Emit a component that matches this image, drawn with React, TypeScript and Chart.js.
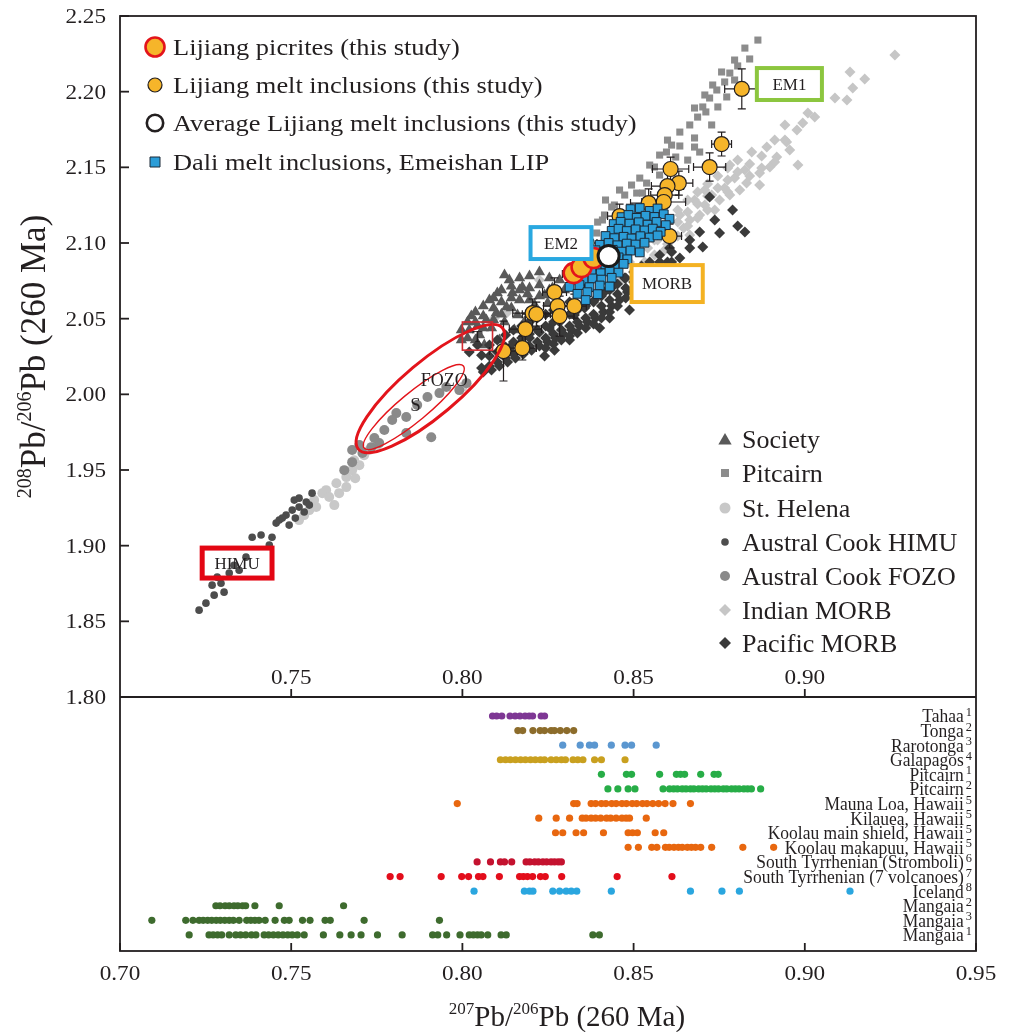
import React, { useEffect, useRef } from "react";
import { Chart, registerables } from "chart.js";

Chart.register(...registerables);

type Pt = [number, number];
type ErrPt = [number, number, number, number];

const SERIF = '"Liberation Serif", "Times New Roman", serif';
const INK = "#231f20";

// ---------------- axes ----------------
const X_MIN = 0.7;
const X_MAX = 0.95;
const X_STEP = 0.05;
const Y_MIN = 1.8;
const Y_MAX = 2.25;
const Y_STEP = 0.05;
const innerXTicks = [0.75, 0.8, 0.85, 0.9];

// ---------------- upper panel: reference fields ----------------
const society: Pt[] = [
  [0.8137, 2.0755], [0.8102, 2.0669], [0.8079, 2.0623], [0.8146, 2.0669], [0.8175, 2.0709],
  [0.8196, 2.0623], [0.8129, 2.0577], [0.8099, 2.0537], [0.807, 2.0491], [0.8044, 2.0451],
  [0.8026, 2.0517], [0.805, 2.0392], [0.8085, 2.0438], [0.8123, 2.0478], [0.8161, 2.0524],
  [0.8211, 2.059], [0.824, 2.0656], [0.8263, 2.0702], [0.8284, 2.0755], [0.8225, 2.0722],
  [0.819, 2.0663], [0.8108, 2.0359], [0.8064, 2.0326], [0.8152, 2.0425], [0.8181, 2.0478],
  [0.802, 2.0425], [0.8249, 2.0603], [0.8298, 2.0689], [0.8219, 2.0544], [0.8167, 2.0623],
  [0.7997, 2.0425], [0.7997, 2.0359], [0.8015, 2.0478], [0.8015, 2.0372], [0.8038, 2.0544],
  [0.8038, 2.0478], [0.8038, 2.0359], [0.8061, 2.0583], [0.8061, 2.0517], [0.8061, 2.0438],
  [0.8091, 2.0636], [0.8091, 2.057], [0.8091, 2.0491], [0.8114, 2.0689], [0.8114, 2.061],
  [0.8114, 2.053], [0.8143, 2.0715], [0.8143, 2.0636], [0.8143, 2.057], [0.8167, 2.0768],
  [0.8167, 2.0689], [0.8196, 2.0782], [0.8196, 2.0702], [0.8225, 2.0808], [0.8225, 2.0649],
  [0.8254, 2.0768], [0.8254, 2.0689], [0.8123, 2.0788],
];

const pitcairn: Pt[] = [
  [0.8863, 2.2341], [0.8839, 2.2216], [0.8804, 2.217], [0.8781, 2.2123], [0.8766, 2.2064],
  [0.8743, 2.2011], [0.8722, 2.1958], [0.8702, 2.1899], [0.8687, 2.1832], [0.8772, 2.1965],
  [0.8746, 2.1899], [0.8711, 2.1866], [0.8599, 2.168], [0.8635, 2.1641], [0.8678, 2.1694],
  [0.8678, 2.1634], [0.8623, 2.1568], [0.8596, 2.1601], [0.8561, 2.1502], [0.8538, 2.1396],
  [0.8526, 2.133], [0.8693, 2.1601], [0.8658, 2.1548], [0.8576, 2.1449], [0.8509, 2.133],
  [0.8488, 2.1238], [0.8436, 2.1238], [0.8409, 2.1152], [0.8392, 2.1066], [0.8371, 2.1039],
  [0.8371, 2.0471], [0.8336, 2.0953], [0.8459, 2.135], [0.8418, 2.1284], [0.8795, 2.2077],
  [0.8728, 2.178], [0.8825, 2.2288], [0.8795, 2.2209], [0.8757, 2.213], [0.8731, 2.2044],
  [0.8708, 2.1978], [0.8678, 2.1892], [0.8664, 2.178], [0.8635, 2.1733], [0.8611, 2.1647],
  [0.8576, 2.1581], [0.8547, 2.1515], [0.8518, 2.1429], [0.8494, 2.1383], [0.8474, 2.1317],
  [0.8444, 2.1251], [0.8415, 2.1185], [0.8395, 2.1138], [0.8357, 2.102], [0.8327, 2.092],
];

const stHelena: Pt[] = [
  [0.7573, 1.9255], [0.7553, 1.9235], [0.7591, 1.9347], [0.7602, 1.9367], [0.7632, 1.9413],
  [0.764, 1.9347], [0.7661, 1.9453], [0.7661, 1.9387], [0.7678, 1.9499], [0.7699, 1.9532],
  [0.7538, 1.9202], [0.7567, 1.9301], [0.7611, 1.9321], [0.7713, 1.9598], [0.7728, 1.9632],
  [0.7751, 1.9665], [0.7687, 1.9446], [0.7626, 1.9268], [0.8, 2.0048], [0.7523, 1.9169],
  [0.7684, 1.9565],
];

const australHimu: Pt[] = [
  [0.7231, 1.8574], [0.7251, 1.862], [0.7269, 1.8739], [0.7304, 1.8693], [0.7295, 1.8752],
  [0.7319, 1.8819], [0.7284, 1.8792], [0.7348, 1.8838], [0.7368, 1.8924], [0.7386, 1.9056],
  [0.7444, 1.9056], [0.7456, 1.9149], [0.7465, 1.9169], [0.7485, 1.9202], [0.7503, 1.9235],
  [0.7523, 1.9255], [0.7544, 1.9288], [0.7561, 1.9347], [0.7523, 1.9314], [0.7474, 1.9182],
  [0.7494, 1.9136], [0.7512, 1.9182], [0.7538, 1.9222], [0.7412, 1.907], [0.7436, 1.9004],
  [0.7275, 1.8673], [0.7333, 1.8871], [0.7509, 1.9301], [0.7553, 1.9268],
];

const australFozo: Pt[] = [
  [0.7678, 1.9552], [0.7708, 1.9612], [0.7734, 1.9651], [0.7757, 1.9678], [0.7678, 1.9632],
  [0.7795, 1.983], [0.7807, 1.9876], [0.7836, 1.985], [0.7909, 1.9717], [0.7836, 1.9744],
  [0.7898, 1.9982], [0.7933, 2.0008], [0.7953, 2.0048], [0.7991, 2.0028], [0.8012, 2.0074],
  [0.7868, 1.9929], [0.7772, 1.9764], [0.7655, 1.9499], [0.7699, 1.9665], [0.7743, 1.9711],
];

const indianMorb: Pt[] = [
  [0.9263, 2.2242], [0.9175, 2.2084], [0.914, 2.2024], [0.9123, 2.1945], [0.9088, 2.1958],
  [0.9132, 2.213], [0.9029, 2.1832], [0.9009, 2.1859], [0.8994, 2.1793], [0.8977, 2.1747],
  [0.8947, 2.1667], [0.8918, 2.1568], [0.8889, 2.1634], [0.8845, 2.1601], [0.898, 2.1515],
  [0.8898, 2.1502], [0.8868, 2.1462], [0.883, 2.1396], [0.881, 2.135], [0.8781, 2.1317],
  [0.8751, 2.1284], [0.8825, 2.1482], [0.8795, 2.1429], [0.8766, 2.1363], [0.8728, 2.1317],
  [0.8708, 2.1251], [0.8693, 2.1185], [0.8664, 2.1152], [0.8635, 2.1185], [0.8646, 2.1099],
  [0.8611, 2.102], [0.8591, 2.0953], [0.8561, 2.092], [0.8532, 2.0874], [0.8503, 2.0821],
  [0.8465, 2.0755], [0.8225, 2.0755], [0.8129, 2.0537], [0.8094, 2.0504], [0.8868, 2.1383],
  [0.8912, 2.168], [0.8942, 2.178], [0.8956, 2.1614], [0.8708, 2.135], [0.8678, 2.1284],
  [0.8737, 2.1218], [0.8664, 2.1053], [0.8561, 2.102], [0.8781, 2.1515],
  [0.8541, 2.0967], [0.8541, 2.1046], [0.857, 2.102], [0.857, 2.1099], [0.8599, 2.1086],
  [0.8599, 2.1165], [0.8599, 2.0993], [0.8629, 2.1138], [0.8629, 2.1218], [0.8629, 2.1046],
  [0.8658, 2.1205], [0.8658, 2.1284], [0.8658, 2.1112], [0.8687, 2.1258], [0.8687, 2.1337],
  [0.8687, 2.1165], [0.8716, 2.131], [0.8716, 2.139], [0.8716, 2.1218], [0.8746, 2.1363],
  [0.8746, 2.1443], [0.8775, 2.1416], [0.8775, 2.1495], [0.8775, 2.1337], [0.8804, 2.1469],
  [0.8804, 2.1548], [0.8839, 2.1522], [0.8839, 2.1443], [0.8874, 2.1575], [0.8874, 2.1495],
  [0.8912, 2.1535], [0.8942, 2.168], [0.8488, 2.0874], [0.8313, 2.0722],
];

const pacificMorb: Pt[] = [
  [0.8722, 2.1304], [0.8789, 2.1218], [0.8804, 2.1112], [0.8751, 2.1066], [0.8702, 2.0973],
  [0.8664, 2.0967], [0.8635, 2.0901], [0.8599, 2.0874], [0.8564, 2.0821], [0.8532, 2.0768],
  [0.8506, 2.0722], [0.8482, 2.0676], [0.8459, 2.0623], [0.8436, 2.0583], [0.8412, 2.0544],
  [0.8389, 2.0504], [0.8365, 2.0478], [0.8342, 2.0451], [0.8401, 2.0438], [0.8488, 2.0557],
  [0.8319, 2.0425], [0.8295, 2.0398], [0.8272, 2.0372], [0.8249, 2.0345], [0.8225, 2.0319],
  [0.8202, 2.0292], [0.8178, 2.0266], [0.8155, 2.024], [0.8132, 2.0213], [0.8108, 2.0187],
  [0.8085, 2.016], [0.8061, 2.0147], [0.8284, 2.0478], [0.8254, 2.0438], [0.8225, 2.0411],
  [0.8196, 2.0372], [0.8167, 2.0332], [0.8137, 2.0306], [0.8108, 2.0279], [0.8327, 2.0524],
  [0.8357, 2.057], [0.8386, 2.0623], [0.8415, 2.0676], [0.8444, 2.0722], [0.8474, 2.0768],
  [0.8313, 2.0359], [0.8269, 2.0292], [0.824, 2.0253], [0.843, 2.0504], [0.8547, 2.0874],
  [0.8576, 2.092], [0.8605, 2.0967], [0.8664, 2.102], [0.8693, 2.1072], [0.8737, 2.1152],
  [0.8825, 2.1072], [0.802, 2.0279], [0.8044, 2.0326],
  [0.8079, 2.0326], [0.8079, 2.0253], [0.8079, 2.0187], [0.8102, 2.0359], [0.8102, 2.0279],
  [0.8102, 2.0213], [0.8126, 2.0392], [0.8126, 2.0312], [0.8126, 2.024], [0.8149, 2.0425],
  [0.8149, 2.0345], [0.8149, 2.0266], [0.8173, 2.0451], [0.8173, 2.0372], [0.8173, 2.0292],
  [0.8196, 2.0478], [0.8196, 2.0398], [0.8196, 2.0319], [0.8219, 2.0504], [0.8219, 2.0425],
  [0.8219, 2.0345], [0.8243, 2.053], [0.8243, 2.0451], [0.8243, 2.0372], [0.8243, 2.0306],
  [0.8266, 2.0557], [0.8266, 2.0478], [0.8266, 2.0398], [0.8266, 2.0332], [0.8289, 2.0583],
  [0.8289, 2.0504], [0.8289, 2.0425], [0.8289, 2.0359], [0.8313, 2.061], [0.8313, 2.053],
  [0.8313, 2.0451], [0.8313, 2.0385], [0.8336, 2.0557], [0.8336, 2.0478], [0.8336, 2.0405],
  [0.836, 2.0583], [0.836, 2.0504], [0.836, 2.0438], [0.8383, 2.061], [0.8383, 2.053],
  [0.8383, 2.0464], [0.8406, 2.0649], [0.8406, 2.0583], [0.8406, 2.0504], [0.843, 2.0689],
  [0.843, 2.0623], [0.843, 2.0544], [0.8453, 2.0729], [0.8453, 2.0663], [0.8453, 2.0583],
  [0.8477, 2.0768], [0.8477, 2.0702], [0.8477, 2.0636], [0.85, 2.0808], [0.85, 2.0742],
  [0.85, 2.0676], [0.8523, 2.0848], [0.8523, 2.0782], [0.8547, 2.0821], [0.8576, 2.0874],
  [0.8576, 2.0808], [0.8611, 2.094], [0.8611, 2.0874], [0.8056, 2.0259], [0.8056, 2.0174],
];

// ---------------- upper panel: this study + Dali ----------------
// [207Pb/206Pb, 208Pb/206Pb, err x, err y]
const lijiangMI: ErrPt[] = [
  [0.8816, 2.2018, 0.005, 0.0132], [0.8757, 2.1654, 0.0029, 0.0079], [0.8722, 2.1502, 0.0047, 0.0093],
  [0.8608, 2.1489, 0.0053, 0.0079], [0.8632, 2.1396, 0.0041, 0.0079], [0.8599, 2.1376, 0.0047, 0.0106],
  [0.8591, 2.1317, 0.0041, 0.0066], [0.8588, 2.1271, 0.0064, 0.0093], [0.8544, 2.1264, 0.0053, 0.0093],
  [0.8459, 2.1178, 0.0035, 0.0079], [0.8605, 2.1046, 0.0035, 0.0079], [0.8363, 2.1, 0.003, 0.0066],
  [0.838, 2.0887, 0.003, 0.0066], [0.8269, 2.0676, 0.0035, 0.0093], [0.8278, 2.0583, 0.0041, 0.0079],
  [0.8327, 2.0583, 0.0035, 0.0079], [0.8333, 2.0795, 0.0041, 0.0066], [0.8357, 2.0768, 0.003, 0.0066],
  [0.8205, 2.0537, 0.0058, 0.0093], [0.8216, 2.053, 0.0041, 0.0079], [0.8184, 2.0431, 0.0047, 0.0106],
  [0.8284, 2.0517, 0.0041, 0.0132], [0.812, 2.0286, 0.0041, 0.0198], [0.8175, 2.0306, 0.0041, 0.0079],
];

const daliMI: Pt[] = [
  [0.8491, 2.1224], [0.8518, 2.1231], [0.8547, 2.1212], [0.857, 2.1228],
  [0.8465, 2.1171], [0.8485, 2.1185], [0.8509, 2.1166], [0.8535, 2.118], [0.8561, 2.1172], [0.8588, 2.119], [0.8605, 2.116],
  [0.8442, 2.1125], [0.8462, 2.114], [0.8488, 2.1128], [0.8515, 2.1137], [0.8541, 2.1121], [0.8567, 2.1139], [0.8594, 2.1118],
  [0.8436, 2.108], [0.8456, 2.1094], [0.848, 2.1079], [0.8506, 2.109], [0.8532, 2.1083], [0.8556, 2.1095], [0.8579, 2.1074],
  [0.8418, 2.1046], [0.8444, 2.1032], [0.8471, 2.1041], [0.8494, 2.103], [0.852, 2.1045], [0.8547, 2.1036], [0.857, 2.105],
  [0.8401, 2.0988], [0.8427, 2.1], [0.8453, 2.0985], [0.848, 2.0996], [0.8506, 2.099], [0.8532, 2.1002],
  [0.8389, 2.0952], [0.8412, 2.094], [0.8439, 2.0955], [0.8465, 2.0943], [0.8491, 2.095], [0.8518, 2.0938],
  [0.8377, 2.0894], [0.8404, 2.0908], [0.843, 2.0896], [0.8456, 2.0905], [0.8482, 2.0892],
  [0.8365, 2.0861], [0.8392, 2.0848], [0.8418, 2.0858], [0.8444, 2.085], [0.8471, 2.0862],
  [0.8351, 2.0802], [0.8377, 2.0815], [0.8404, 2.08], [0.843, 2.0812], [0.8456, 2.0804],
  [0.8327, 2.0768], [0.8354, 2.0755], [0.838, 2.0766], [0.8406, 2.0758], [0.8436, 2.077],
  [0.8313, 2.071], [0.8342, 2.0722], [0.8371, 2.0708], [0.8401, 2.0719], [0.843, 2.0712],
  [0.8336, 2.0664], [0.8365, 2.0675], [0.8395, 2.0662], [0.836, 2.0623],
];

const lijiangPicrites: Pt[] = [[0.8325, 2.0801], [0.8348, 2.0841], [0.8383, 2.0901]];
const lijiangAverage: Pt[] = [[0.8427, 2.0914]];

// ---------------- lower panel: 207Pb/206Pb by locality ----------------
const tahaa = [0.8088, 0.81, 0.8115, 0.8139, 0.8154, 0.8168, 0.8183, 0.8195, 0.8205, 0.823, 0.824];
const tonga = [0.8162, 0.8176, 0.8206, 0.8227, 0.824, 0.8259, 0.8269, 0.8286, 0.8305, 0.8325];
const rarotonga = [0.8293, 0.8344, 0.8371, 0.8386, 0.8435, 0.8475, 0.8494, 0.8566];
const galapagos = [0.8111, 0.8126, 0.814, 0.8155, 0.817, 0.8184, 0.8199, 0.8213, 0.8228, 0.824, 0.8259, 0.8274, 0.8289, 0.8301, 0.8323, 0.8337, 0.8352, 0.8386, 0.8406, 0.8475];
const pitcairn1 = [0.8406, 0.8479, 0.8494, 0.8576, 0.8625, 0.8637, 0.8649, 0.8696, 0.8735, 0.8747];
const pitcairn2 = [0.8425, 0.8454, 0.8484, 0.8504, 0.8586, 0.8605, 0.8617, 0.8628, 0.8642, 0.8653, 0.8666, 0.8676, 0.869, 0.8701, 0.8712, 0.8726, 0.8737, 0.8748, 0.8762, 0.8772, 0.8786, 0.8797, 0.8808, 0.8822, 0.8833, 0.8844, 0.8871];
const maunaLoa = [0.7985, 0.8325, 0.8335, 0.8376, 0.8389, 0.8406, 0.8419, 0.8436, 0.8449, 0.8466, 0.8479, 0.8496, 0.8509, 0.8526, 0.8539, 0.8556, 0.8573, 0.8592, 0.8615, 0.8666];
const kilauea = [0.8223, 0.8274, 0.8313, 0.835, 0.8361, 0.8376, 0.8389, 0.8404, 0.8421, 0.8433, 0.8449, 0.8466, 0.8478, 0.8488, 0.8537];
const koolauMain = [0.8272, 0.8293, 0.8332, 0.8354, 0.8412, 0.8484, 0.8497, 0.8511, 0.8563, 0.8588];
const koolauMakapuu = [0.8484, 0.8514, 0.8553, 0.8568, 0.8593, 0.8604, 0.8618, 0.8631, 0.8642, 0.8657, 0.8669, 0.8681, 0.8696, 0.8728, 0.8819, 0.8909];
const stromboli = [0.8043, 0.8082, 0.8111, 0.8123, 0.8144, 0.8186, 0.8197, 0.8211, 0.8222, 0.8235, 0.8246, 0.8259, 0.8269, 0.828, 0.8289];
const tyrrhenian7 = [0.7789, 0.7818, 0.7938, 0.7998, 0.8018, 0.8047, 0.806, 0.8108, 0.8167, 0.8178, 0.819, 0.8205, 0.8228, 0.8242, 0.829, 0.8452, 0.8612];
const iceland = [0.8034, 0.8181, 0.8196, 0.8206, 0.8264, 0.8284, 0.8303, 0.8318, 0.8334, 0.8435, 0.8666, 0.8758, 0.8809, 0.9132];
const mangaia2 = [0.728, 0.7292, 0.7307, 0.7319, 0.7333, 0.7344, 0.7358, 0.7367, 0.7394, 0.7465, 0.7653];
const mangaia3 = [0.7093, 0.7192, 0.7213, 0.7231, 0.7243, 0.7256, 0.7268, 0.7281, 0.7293, 0.7306, 0.7319, 0.7331, 0.7348, 0.737, 0.7382, 0.7394, 0.7406, 0.7424, 0.7453, 0.748, 0.7494, 0.7533, 0.7555, 0.7599, 0.7614, 0.7713, 0.7933];
const mangaia1 = [0.7202, 0.726, 0.7272, 0.7285, 0.7297, 0.7319, 0.7338, 0.7352, 0.7367, 0.7384, 0.7397, 0.7421, 0.7434, 0.7448, 0.7462, 0.7476, 0.749, 0.7503, 0.7518, 0.7538, 0.7594, 0.7642, 0.7675, 0.7704, 0.7752, 0.7824, 0.7913, 0.7928, 0.7954, 0.7993, 0.802, 0.8032, 0.8044, 0.8055, 0.8074, 0.8113, 0.8128, 0.8381, 0.84];

const rowLabels = [
  "Tahaa", "Tonga", "Rarotonga", "Galapagos", "Pitcairn", "Pitcairn", "Mauna Loa, Hawaii",
  "Kilauea, Hawaii", "Koolau main shield, Hawaii", "Koolau makapuu, Hawaii",
  "South Tyrrhenian (Stromboli)", "South Tyrrhenian (7 volcanoes)", "Iceland", "Mangaia", "Mangaia", "Mangaia",
];
const rowRefs = ["1", "2", "3", "4", "1", "2", "5", "5", "5", "5", "6", "7", "8", "2", "3", "1"];
const rowValues = [
  tahaa, tonga, rarotonga, galapagos, pitcairn1, pitcairn2, maunaLoa, kilauea, koolauMain,
  koolauMakapuu, stromboli, tyrrhenian7, iceland, mangaia2, mangaia3, mangaia1,
];
const rowColors = [
  "#7e3794", "#8c6c2b", "#5b97d0", "#c9a01f", "#27ad47", "#27ad47", "#e8670f", "#e8670f", "#e8670f",
  "#e8670f", "#c4122f", "#e30d1b", "#2aa6df", "#3e6b2e", "#3e6b2e", "#3e6b2e",
];

// ---------------- annotations (data coordinates) ----------------
const boxNotes = [
  { label: "HIMU", x1: 0.724, y1: 1.8984, x2: 0.7444, y2: 1.8786, color: "#e30613", lw: 5, fill: false, size: 17 },
  { label: "EM1", x1: 0.886, y1: 2.2156, x2: 0.905, y2: 2.1945, color: "#8cc63f", lw: 4, fill: true, size: 17 },
  { label: "EM2", x1: 0.8199, y1: 2.1105, x2: 0.8377, y2: 2.0894, color: "#29a8e0", lw: 4, fill: true, size: 17 },
  { label: "MORB", x1: 0.8494, y1: 2.0854, x2: 0.8702, y2: 2.061, color: "#f4b223", lw: 4, fill: true, size: 17 },
  { label: "T", x1: 0.8, y1: 2.0478, x2: 0.8088, y2: 2.0292, color: "#d02a30", lw: 1.6, fill: false, size: 17 },
];
const ellipseNotes = [
  { x1: 0.7696, y1: 1.9638, x2: 0.8117, y2: 2.0438, ratio: 0.29, lw: 3 },
  { x1: 0.7713, y1: 1.9645, x2: 0.8003, y2: 2.0187, ratio: 0.22, lw: 1.4 },
];
const textNotes = [
  { label: "FOZO", x: 0.7947, y: 2.0094, size: 18 },
  { label: "S", x: 0.7863, y: 1.9929, size: 19 },
];

// ---------------- colours ----------------
const YELLOW = "#f6b52a";
const BLUE = "#2b9dd8";
const RED = "#e3141b";

// ---------------- helpers ----------------
function drawText(ctx: any, s: string, x: number, y: number, size: number, align: string, stretch = 1, color = INK) {
  ctx.save();
  ctx.font = `${size}px ${SERIF}`;
  ctx.fillStyle = color;
  ctx.textBaseline = "alphabetic";
  ctx.textAlign = "left";
  const w = ctx.measureText(s).width * stretch;
  const x0 = align === "left" ? x : align === "center" ? x - w / 2 : x - w;
  ctx.translate(x0, y);
  ctx.scale(stretch, 1);
  ctx.fillText(s, 0, 0);
  ctx.restore();
  return w;
}

type Part = { t: string; sup?: boolean };
function drawRich(ctx: any, parts: Part[], cx: number, baseline: number, size: number, supSize: number, rise: number) {
  ctx.save();
  let total = 0;
  for (const p of parts) {
    ctx.font = `${p.sup ? supSize : size}px ${SERIF}`;
    total += ctx.measureText(p.t).width;
  }
  let x = cx - total / 2;
  ctx.fillStyle = INK;
  ctx.textBaseline = "alphabetic";
  ctx.textAlign = "left";
  for (const p of parts) {
    ctx.font = `${p.sup ? supSize : size}px ${SERIF}`;
    ctx.fillText(p.t, x, p.sup ? baseline - rise : baseline);
    x += ctx.measureText(p.t).width;
  }
  ctx.restore();
}

function drawMarker(ctx: any, shape: string, x: number, y: number, r: number, fill: string, stroke?: string, lw = 0) {
  ctx.save();
  ctx.beginPath();
  if (shape === "circle") ctx.arc(x, y, r, 0, Math.PI * 2);
  else if (shape === "square") ctx.rect(x - r, y - r, 2 * r, 2 * r);
  else if (shape === "diamond") {
    ctx.moveTo(x, y - r); ctx.lineTo(x + r, y); ctx.lineTo(x, y + r); ctx.lineTo(x - r, y); ctx.closePath();
  } else if (shape === "triangle") {
    ctx.moveTo(x, y - r); ctx.lineTo(x + r * 0.95, y + r * 0.65); ctx.lineTo(x - r * 0.95, y + r * 0.65); ctx.closePath();
  }
  ctx.fillStyle = fill;
  ctx.fill();
  if (stroke && lw > 0) {
    ctx.lineWidth = lw;
    ctx.strokeStyle = stroke;
    ctx.stroke();
  }
  ctx.restore();
}

const toXY = (pts: Pt[]) => pts.map(([x, y]) => ({ x, y }));

const overlayPlugin = {
  id: "overlay",
  beforeDatasetDraw(chart: any, args: any) {
    const ds = chart.data.datasets[args.index];
    if (ds.label !== "Lijiang melt inclusions (this study)") return;
    const { ctx } = chart;
    const xs = chart.scales.x;
    const ys = chart.scales.y;
    ctx.save();
    ctx.strokeStyle = INK;
    ctx.lineWidth = 1.2;
    for (const [x, y, ex, ey] of lijiangMI) {
      const px = xs.getPixelForValue(x);
      const py = ys.getPixelForValue(y);
      const xl = xs.getPixelForValue(x - ex);
      const xr = xs.getPixelForValue(x + ex);
      const yt = ys.getPixelForValue(y + ey);
      const yb = ys.getPixelForValue(y - ey);
      ctx.beginPath();
      ctx.moveTo(xl, py); ctx.lineTo(xr, py);
      ctx.moveTo(xl, py - 4); ctx.lineTo(xl, py + 4);
      ctx.moveTo(xr, py - 4); ctx.lineTo(xr, py + 4);
      ctx.moveTo(px, yt); ctx.lineTo(px, yb);
      ctx.moveTo(px - 4, yt); ctx.lineTo(px + 4, yt);
      ctx.moveTo(px - 4, yb); ctx.lineTo(px + 4, yb);
      ctx.stroke();
    }
    ctx.restore();
  },
  afterDatasetsDraw(chart: any) {
    const { ctx } = chart;
    const xs = chart.scales.x;
    const ys = chart.scales.y;
    ctx.save();
    for (const e of ellipseNotes) {
      const x1 = xs.getPixelForValue(e.x1), y1 = ys.getPixelForValue(e.y1);
      const x2 = xs.getPixelForValue(e.x2), y2 = ys.getPixelForValue(e.y2);
      const a = Math.hypot(x2 - x1, y2 - y1) / 2;
      ctx.beginPath();
      ctx.ellipse((x1 + x2) / 2, (y1 + y2) / 2, a, a * e.ratio, Math.atan2(y2 - y1, x2 - x1), 0, Math.PI * 2);
      ctx.strokeStyle = RED;
      ctx.lineWidth = e.lw;
      ctx.stroke();
    }
    for (const b of boxNotes) {
      const l = xs.getPixelForValue(b.x1), r = xs.getPixelForValue(b.x2);
      const t = ys.getPixelForValue(b.y1), btm = ys.getPixelForValue(b.y2);
      if (b.fill) {
        ctx.fillStyle = "#ffffff";
        ctx.fillRect(l, t, r - l, btm - t);
      }
      ctx.strokeStyle = b.color;
      ctx.lineWidth = b.lw;
      ctx.strokeRect(l, t, r - l, btm - t);
      drawText(ctx, b.label, (l + r) / 2, (t + btm) / 2 + b.size * 0.33, b.size, "center");
    }
    for (const n of textNotes) {
      drawText(ctx, n.label, xs.getPixelForValue(n.x), ys.getPixelForValue(n.y) + n.size * 0.33, n.size, "center");
    }
    ctx.restore();
  },
  afterDraw(chart: any) {
    const { ctx, chartArea: ca } = chart;
    const xs = chart.scales.x;
    const ys = chart.scales.y;
    const y2s = chart.scales.y2;
    const sepY = ys.bottom;
    ctx.save();
    ctx.strokeStyle = INK;
    ctx.lineWidth = 1.8;
    ctx.strokeRect(ca.left, ca.top, ca.right - ca.left, ca.bottom - ca.top);
    ctx.beginPath();
    ctx.moveTo(ca.left, sepY); ctx.lineTo(ca.right, sepY);
    ctx.stroke();

    for (const t of ys.ticks) {
      const py = ys.getPixelForValue(t.value);
      ctx.beginPath();
      ctx.moveTo(ca.left, py); ctx.lineTo(ca.left + 9, py);
      ctx.stroke();
      drawText(ctx, Number(t.value).toFixed(2), ca.left - 14, py + 7, 20, "right", 1.16);
    }
    for (const t of xs.ticks) {
      const px = xs.getPixelForValue(t.value);
      ctx.beginPath();
      ctx.moveTo(px, ca.bottom); ctx.lineTo(px, ca.bottom - 8);
      ctx.stroke();
      drawText(ctx, Number(t.value).toFixed(2), px, ca.bottom + 29, 20, "center", 1.16);
    }
    for (const v of innerXTicks) {
      const px = xs.getPixelForValue(v);
      ctx.beginPath();
      ctx.moveTo(px, sepY); ctx.lineTo(px, sepY - 8);
      ctx.stroke();
      drawText(ctx, v.toFixed(2), px, sepY - 13, 20, "center", 1.16);
    }

    const supRight = ca.right - 4;
    rowLabels.forEach((lab, i) => {
      const py = y2s.getPixelForValue(i);
      const sw = drawText(ctx, rowRefs[i], supRight, py, 13, "right", 0.95);
      drawText(ctx, lab, supRight - sw - 2, py + 6.5, 19, "right", 0.92);
    });

    const lx = 155, tx = 173;
    const topRows = [47, 85, 123, 162];
    drawMarker(ctx, "circle", lx, topRows[0], 9.5, YELLOW, RED, 2.6);
    drawMarker(ctx, "circle", lx, topRows[1], 7, YELLOW, INK, 1.2);
    drawMarker(ctx, "circle", lx, topRows[2], 8.2, "#ffffff", INK, 2.6);
    drawMarker(ctx, "square", lx, topRows[3], 5, BLUE, "#1c2a38", 1);
    const topLabels = [
      "Lijiang picrites (this study)",
      "Lijiang melt inclusions (this study)",
      "Average Lijiang melt inclusions (this study)",
      "Dali melt inclusions, Emeishan LIP",
    ];
    topLabels.forEach((s, i) => drawText(ctx, s, tx, topRows[i] + 8, 24, "left", 1.1));

    const rx = 725, rtx = 742;
    const rightRows = [439, 473, 508, 542, 576, 610, 643];
    drawMarker(ctx, "triangle", rx, rightRows[0] + 1, 7, "#595959");
    drawMarker(ctx, "square", rx, rightRows[1], 4, "#8c8c8c");
    drawMarker(ctx, "circle", rx, rightRows[2], 5.5, "#c8c8c8");
    drawMarker(ctx, "circle", rx, rightRows[3], 3.8, "#4d4d4d");
    drawMarker(ctx, "circle", rx, rightRows[4], 5, "#8a8a8a");
    drawMarker(ctx, "diamond", rx, rightRows[5], 6, "#c6c6c6");
    drawMarker(ctx, "diamond", rx, rightRows[6], 6, "#3a3a3a");
    const rightLabels = ["Society", "Pitcairn", "St. Helena", "Austral Cook HIMU", "Austral Cook FOZO", "Indian MORB", "Pacific MORB"];
    rightLabels.forEach((s, i) => drawText(ctx, s, rtx, rightRows[i] + 9, 26, "left", 1.0));

    drawRich(ctx, [{ t: "207", sup: true }, { t: "Pb/" }, { t: "206", sup: true }, { t: "Pb (260 Ma)" }], 567, 1026, 29, 17, 12);
    ctx.save();
    ctx.translate(33, (ca.top + sepY) / 2);
    ctx.rotate(-Math.PI / 2);
    drawRich(ctx, [{ t: "208", sup: true }, { t: "Pb/" }, { t: "206", sup: true }, { t: "Pb (260 Ma)" }], 0, 12, 35, 20, 14);
    ctx.restore();

    ctx.restore();
  },
};

export default function App() {
  const ref = useRef<HTMLCanvasElement>(null);

  useEffect(() => {
    const canvas = ref.current;
    if (!canvas) return;

    const upper = (label: string, pts: Pt[], style: any, order: number) => ({
      label,
      data: toXY(pts),
      yAxisID: "y",
      order,
      showLine: false,
      ...style,
    });

    const lowerSets = rowValues.map((vals, i) => ({
      label: rowLabels[i] + " " + rowRefs[i],
      data: vals.map((v) => ({ x: v, y: i })),
      yAxisID: "y2",
      order: 20,
      showLine: false,
      pointStyle: "circle",
      pointRadius: 3.6,
      pointBorderWidth: 0,
      pointBackgroundColor: rowColors[i],
    }));

    const datasets: any[] = [
      upper("Indian MORB", indianMorb, { pointStyle: "rectRot", pointRadius: 5.5, pointBorderWidth: 0, pointBackgroundColor: "#c6c6c6" }, 16),
      upper("Pitcairn", pitcairn, { pointStyle: "rect", pointRadius: 5, pointBorderWidth: 0, pointBackgroundColor: "#8c8c8c" }, 15),
      upper("St. Helena", stHelena, { pointStyle: "circle", pointRadius: 5, pointBorderWidth: 0, pointBackgroundColor: "#c8c8c8" }, 14),
      upper("Austral Cook FOZO", australFozo, { pointStyle: "circle", pointRadius: 5, pointBorderWidth: 0, pointBackgroundColor: "#8a8a8a" }, 13),
      upper("Austral Cook HIMU", australHimu, { pointStyle: "circle", pointRadius: 3.8, pointBorderWidth: 0, pointBackgroundColor: "#4d4d4d" }, 12),
      upper("Society", society, { pointStyle: "triangle", pointRadius: 6.5, pointBorderWidth: 0, pointBackgroundColor: "#595959" }, 11),
      upper("Pacific MORB", pacificMorb, { pointStyle: "rectRot", pointRadius: 5.5, pointBorderWidth: 0, pointBackgroundColor: "#3a3a3a" }, 10),
      {
        label: "Lijiang melt inclusions (this study)",
        data: lijiangMI.map(([x, y]) => ({ x, y })),
        yAxisID: "y",
        order: 4,
        showLine: false,
        pointStyle: "circle",
        pointRadius: 7.5,
        pointBorderWidth: 1.2,
        pointBorderColor: INK,
        pointBackgroundColor: YELLOW,
      },
      upper("Dali melt inclusions, Emeishan LIP", daliMI, { pointStyle: "rect", pointRadius: 6.2, pointBorderWidth: 1, pointBorderColor: "#1c2a38", pointBackgroundColor: BLUE }, 3),
      upper("Lijiang picrites (this study)", lijiangPicrites, { pointStyle: "circle", pointRadius: 10, pointBorderWidth: 2.6, pointBorderColor: RED, pointBackgroundColor: YELLOW }, 2),
      upper("Average Lijiang melt inclusions (this study)", lijiangAverage, { pointStyle: "circle", pointRadius: 10.5, pointBorderWidth: 3, pointBorderColor: "#1a1a1a", pointBackgroundColor: "#ffffff" }, 1),
      ...lowerSets,
    ];

    const hidden = { display: false, drawTicks: false };
    const chart = new Chart(canvas, {
      type: "scatter",
      data: { datasets },
      options: {
        responsive: false,
        animation: false,
        devicePixelRatio: 1,
        events: [],
        layout: { padding: { left: 8, right: 34, top: 16, bottom: 0 } },
        plugins: { legend: { display: false }, tooltip: { enabled: false }, title: { display: false } },
        scales: {
          x: {
            type: "linear",
            position: "bottom",
            min: X_MIN,
            max: X_MAX,
            ticks: { stepSize: X_STEP, display: false },
            grid: hidden,
            border: { display: false },
            afterFit: (s: any) => { s.height = 81; },
          },
          y: {
            type: "linear",
            position: "left",
            stack: "panels",
            stackWeight: 681,
            weight: 2,
            min: Y_MIN,
            max: Y_MAX,
            ticks: { stepSize: Y_STEP, display: false },
            grid: hidden,
            border: { display: false },
            afterFit: (s: any) => { s.width = 112; },
          },
          y2: {
            type: "linear",
            position: "left",
            stack: "panels",
            stackWeight: 254,
            weight: 1,
            min: -1.3,
            max: 16.1,
            reverse: true,
            ticks: { display: false },
            grid: hidden,
            border: { display: false },
            afterFit: (s: any) => { s.width = 112; },
          },
        },
      } as any,
      plugins: [overlayPlugin as any],
    });

    return () => chart.destroy();
  }, []);

  return (
    <div style={{ position: "fixed", left: 0, top: 0, width: 1010, height: 1032, background: "#ffffff" }}>
      <canvas ref={ref} width={1010} height={1032} style={{ display: "block", width: 1010, height: 1032 }} />
    </div>
  );
}
